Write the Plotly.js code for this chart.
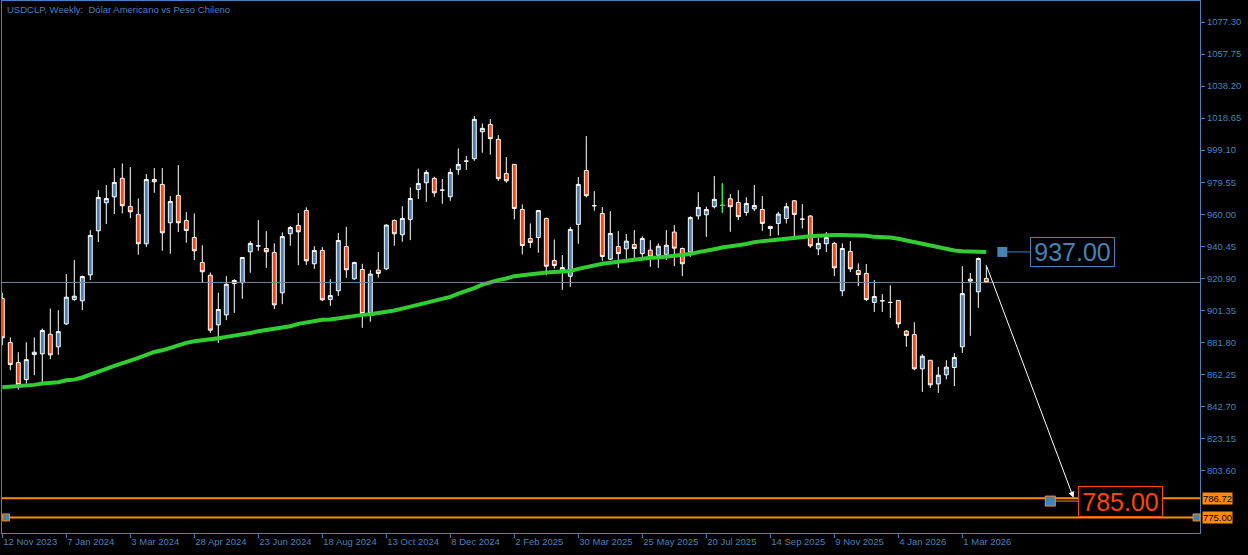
<!DOCTYPE html>
<html>
<head>
<meta charset="utf-8">
<script src="https://cdn.plot.ly/plotly-3.0.1.min.js"></script>
<style>html,body{margin:0;padding:0;background:#000;}#chart{width:1248px;height:555px;}</style>
</head>
<body>
<div id="chart"></div>
<script>
// ---- data (weekly USDCLP candles) ----
const startWeek = '2023-11-12';
const open  = [908.6,881.7,869.5,859.1,874.4,874.8,886.8,879.1,893.1,908,907.2,923,949.9,967,970.6,981.9,964.8,959.9,942,981.2,978.2,954.8,971.5,956.2,945.8,930.6,922.8,892.5,898.6,917.7,918.2,937.1,940.7,939.1,936.7,912.1,948.1,953.2,962.3,929.8,937.9,908,913.3,940.3,920.6,926.3,900,925.9,926.7,956.2,947.5,956.8,975.1,979.2,981.9,974.7,970.7,987.2,992.4,993.9,1010.3,1014.8,1005.7,984.9,990.4,962.9,945.2,945.8,957.4,931.8,924.9,922.2,953.8,986.7,965.2,960.5,932.6,940.3,938.9,941.5,936,938.1,935,935.5,949.1,939.1,936.9,959,959.7,964.6,965.4,969.4,967.2,961.1,963.3,962.9,952.6,954.4,957.4,968.2,957,958.9,938.9,942,942.2,913.3,937.3,925.7,923.9,906.2,907.2,906.2,907.4,888.7,886.6,865.7,870.9,856.5,862,866.5,879.1,920.4,912.7,920.8];
const high  = [912,884.8,875.8,881.9,884.8,890.3,902.5,901.5,923.5,932,922.6,950.3,974.7,977.8,988.2,991,988.8,969.6,984.5,988.2,988.2,971.1,990,961.3,960.5,941.1,924.5,912.1,922.2,920.4,933.6,943.6,956.4,949.7,942.2,948.9,952.8,960.7,964.2,940.5,939.9,920.4,948.5,952.3,931,929.8,925.9,936.9,953.8,956.8,964.9,976.4,987.9,986.9,982.9,981.5,987.9,1000.2,995.5,1019.9,1015.4,1018.1,1008.3,994.9,990.4,966,954.4,962.3,958,944.6,935.1,952.3,982.7,1007.7,974.1,964.4,961.9,949.7,947.9,950.3,946.6,944.2,942.2,950.3,953.4,939.7,958.8,973.5,964.6,983.3,978.8,972.3,974.7,970.3,977.8,971.1,952.6,961.5,967,968.6,966.2,959.5,945.8,949.1,943.2,942.2,943.6,930,929.6,919.8,911.2,916.7,907.4,889.3,894.1,874.6,870.9,866.9,870.9,875.2,928.3,924.1,933.6,928.9];
const low   = [880,864.8,853,856.7,861.8,857.7,871.6,874.2,892.5,907.2,901.5,919.8,943,954,960.1,960.5,957.6,935.3,940.1,973.1,937.7,935.9,949.1,942.6,932,918.2,887.6,881.5,895.4,899.8,908.4,924.3,937.7,927.3,902.1,905.1,940.8,928.9,929.1,926.7,907,904.1,910.2,921.2,920,890.7,894.4,921.4,925.9,940.8,943.2,944.2,969.4,967.6,970.7,966.4,968.2,984.1,987,992.6,997.5,996.3,980.4,979.2,956.8,935.5,939.5,936.5,922.8,926.9,913.9,915.7,942,970.3,962.1,931.6,932,927.3,932.8,932.6,934,927.9,927.3,932,928.3,922.2,934,956.8,946.2,963.5,960.9,949.3,956.4,959.1,961.9,949.9,946.6,947.2,954.4,946.6,951.3,939.5,935,936.9,922.2,910,924.7,916.1,907,900.4,900.4,896.8,890.5,879.1,864.8,851.6,854,851,859.3,855.1,875.4,885.8,902.9,918];
const close = [884.6,868.3,856,871.3,875.8,889.1,874.2,888.4,909.4,910,922,947.1,970.3,969.6,979.4,965.2,961.5,942,981.2,979.8,948.7,967.8,954.8,950.1,937.7,924.9,889.3,901.9,917.3,919.6,933.6,942.2,940.7,937.1,904.7,946.4,951.9,949.3,931.6,937.9,907.8,910.4,944,926.1,930.6,899.4,923.5,923.9,953.4,948.1,957.4,969.6,978.8,985.5,973.1,974.7,985.5,990.4,992.4,1017.9,1012.4,1006.1,981.7,980.4,963.5,940.9,942.8,962.3,928.3,928.7,927.5,950.7,978.2,971.3,965.2,934.2,948.3,936,943.6,939.1,945.2,934,940.5,941.1,939.3,929.8,958,964.2,962.9,969.1,965.4,964.6,958.5,966.6,965.4,954.4,951.3,960.1,964.6,959.9,957,940.7,942.2,945.8,927.3,939.1,926.7,923.2,908,909.8,907.2,906.2,893.1,886,865.7,873.4,855.9,861.8,866.7,872.6,911.6,919.2,933,918.4];
const movingAvg = [854.5,854.7,855.3,855.5,855.9,856.7,857.1,857.5,858.7,859.1,860.4,862.0,863.8,865.7,867.5,868.9,870.7,872.4,874.2,876.0,877.0,878.6,880.3,881.5,882.5,883.0,883.5,884.4,885.2,885.8,886.6,887.6,888.6,889.3,889.7,890.7,891.7,893.1,894.0,894.8,895.6,895.8,896.6,897.6,898.2,898.6,899.0,899.6,900.7,901.3,902.4,903.6,904.9,906.6,907.4,908.6,909.6,911.6,913.1,914.9,917.1,918.6,919.8,920.8,922.2,922.8,923.5,923.9,924.5,924.7,924.9,925.3,926.7,927.9,929.2,929.8,930.4,931.0,932.0,932.2,932.8,933.4,933.6,934.1,934.6,935.3,935.8,936.9,938.1,938.7,939.7,940.3,940.9,941.9,943.0,943.6,943.8,944.6,945.2,946.0,946.3,946.6,946.9,947.3,947.3,947.3,947.3,947.3,946.9,946.2,946.2,945.8,945.0,944.0,943.2,942.2,941.0,939.7,938.9,937.9,937.5,937.5,937.3,936.9];
const greenDojiIdx = [90];
const xTickIdx = [0,8,16,24,32,40,48,56,64,72,80,88,96,104,112,120];
const xTickLabels = ['12 Nov 2023','7 Jan 2024','3 Mar 2024','28 Apr 2024','23 Jun 2024','18 Aug 2024','13 Oct 2024','8 Dec 2024','2 Feb 2025','30 Mar 2025','25 May 2025','20 Jul 2025','14 Sep 2025','9 Nov 2025','4 Jan 2026','1 Mar 2026'];
const yTicks = [1077.30,1057.75,1038.20,1018.65,999.10,979.55,960.00,940.45,920.90,901.35,881.80,862.25,842.70,823.15,803.60];
const levelA = 786.72, levelB = 775.00;
const targetUp = 937.00, targetDown = 785.00;
const titleText = 'USDCLP, Weekly:\u00a0 Dólar Americano vs Peso Chileno';

// ---- helpers ----
const t0 = Date.UTC(2023,10,12);
function weekDate(k){ return new Date(t0 + k*7*86400000).toISOString().replace('T',' ').replace('Z',''); }
const dates = open.map((_,i)=>weekDate(i));
const last = open.length-1;

const BLUE = '#4682B4', RED = '#FF4500', ORANGE = '#FF8C00', GREEN = '#32CD32', AXC = '#4A80BE';
const FONT = 'Liberation Sans, Arial, sans-serif';

const candles = {
  type:'candlestick', x:dates, open:open, high:high, low:low, close:close,
  increasing:{line:{color:'#FFFFFF',width:1}, fillcolor:BLUE},
  decreasing:{line:{color:'#FFFFFF',width:1}, fillcolor:RED},
  whiskerwidth:0, hoverinfo:'skip', showlegend:false
};
const gd = greenDojiIdx;
const doji = {
  type:'candlestick', x:gd.map(i=>dates[i]), open:gd.map(i=>open[i]), high:gd.map(i=>high[i]),
  low:gd.map(i=>low[i]), close:gd.map(i=>close[i]),
  increasing:{line:{color:'#00FF00',width:1}, fillcolor:'#00FF00'},
  decreasing:{line:{color:'#00FF00',width:1}, fillcolor:'#00FF00'},
  hoverinfo:'skip', showlegend:false
};
const ma = {type:'scatter', mode:'lines', x:dates, y:movingAvg, line:{color:GREEN,width:4}, hoverinfo:'skip', showlegend:false};

function sq(xa, xr, ya, size, fill, border){
  return {type:'rect', xref:xr, yref:'y', xsizemode:'pixel', ysizemode:'pixel', xanchor:xa, yanchor:ya,
    x0:-size/2, x1:size/2, y0:-size/2, y1:size/2, fillcolor:fill, line:{color:border||fill, width:border?1:0}};
}

const shapes = [
  {type:'line', xref:'paper', x0:0, x1:1, yref:'y', y0:close[last], y1:close[last], line:{color:'#778899',width:1}},
  {type:'line', xref:'paper', x0:0, x1:1, yref:'y', y0:levelA, y1:levelA, line:{color:ORANGE,width:2}},
  {type:'line', xref:'paper', x0:0, x1:1, yref:'y', y0:levelB, y1:levelB, line:{color:ORANGE,width:2}},
  {type:'line', xref:'x', x0:weekDate(125), x1:weekDate(128.5), yref:'y', y0:targetUp, y1:targetUp, line:{color:BLUE,width:1}},
  {type:'line', xref:'x', x0:weekDate(131), x1:weekDate(134.5), yref:'y', y0:targetDown, y1:targetDown, line:{color:ORANGE,width:1}},
  sq(weekDate(125),'x',targetUp,10,BLUE),
  sq(weekDate(131),'x',targetDown,10,BLUE,ORANGE),
  sq(0.0033,'paper',levelB,7,BLUE,ORANGE),
  sq(0.9971,'paper',levelB,7,BLUE,ORANGE)
];

const annotations = [
  {xref:'paper', yref:'paper', x:0, y:1, xanchor:'left', yanchor:'top', xshift:3, yshift:-1, showarrow:false,
   text:titleText, font:{family:FONT, size:9.5, color:AXC}},
  {xref:'paper', yref:'y', x:1, y:levelA, xanchor:'left', xshift:2, showarrow:false, text:levelA.toFixed(2),
   bgcolor:ORANGE, borderpad:0, font:{family:FONT,size:9.5,color:'#000000'}},
  {xref:'paper', yref:'y', x:1, y:levelB, xanchor:'left', xshift:2, showarrow:false, text:levelB.toFixed(2),
   bgcolor:ORANGE, borderpad:0, font:{family:FONT,size:9.5,color:'#000000'}},
  {xref:'x', yref:'y', x:weekDate(133.8), y:targetUp, showarrow:false, text:targetUp.toFixed(2),
   width:83, height:28, borderpad:0, bordercolor:BLUE, borderwidth:1, bgcolor:'#000000',
   font:{family:FONT,size:25,color:BLUE}},
  {xref:'x', yref:'y', x:weekDate(139.8), y:targetDown, showarrow:false, text:targetDown.toFixed(2),
   width:83, height:29, borderpad:0, bordercolor:RED, borderwidth:1, bgcolor:'#000000',
   font:{family:FONT,size:25,color:RED}},
  {xref:'x', yref:'y', x:weekDate(133.9), y:787, axref:'x', ayref:'y', ax:dates[last], ay:high[last],
   showarrow:true, arrowhead:2, arrowsize:1.2, arrowwidth:1, arrowcolor:'#FFFFFF', text:'', standoff:0}
];

const layout = {
  width:1248, height:555,
  margin:{l:2, r:48, t:1, b:22, pad:0},
  paper_bgcolor:'#000000', plot_bgcolor:'#000000',
  showlegend:false, dragmode:false,
  xaxis:{type:'date', range:[weekDate(-0.0375), weekDate(149.71)], rangeslider:{visible:false},
    tickvals:xTickIdx.map(i=>dates[i]), ticktext:xTickLabels, ticks:'outside', ticklen:4, tickcolor:AXC,
    ticklabelposition:'outside right', tickfont:{family:FONT,size:9.5,color:AXC},
    showgrid:false, zeroline:false, showline:true, linecolor:AXC, linewidth:1, mirror:true, fixedrange:true},
  yaxis:{side:'right', range:[765.52,1090.11], tickvals:yTicks, ticktext:yTicks.map(v=>v.toFixed(2)),
    ticks:'outside', ticklen:4, tickcolor:AXC, tickfont:{family:FONT,size:9.5,color:AXC},
    showgrid:false, zeroline:false, showline:true, linecolor:AXC, linewidth:1, mirror:true, fixedrange:true},
  shapes:shapes, annotations:annotations
};

Plotly.newPlot('chart', [candles, doji, ma], layout, {displayModeBar:false, staticPlot:true});
</script>
</body>
</html>
